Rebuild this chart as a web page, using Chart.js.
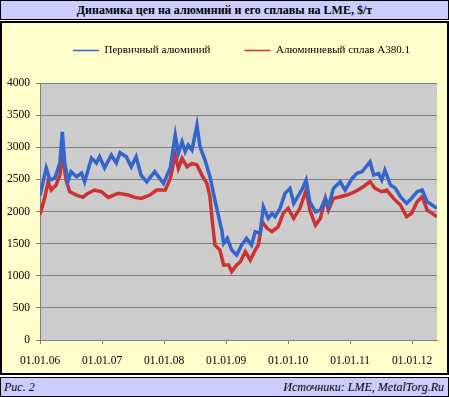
<!DOCTYPE html>
<html>
<head>
<meta charset="utf-8">
<script src="https://cdn.jsdelivr.net/npm/chart.js@4/dist/chart.umd.min.js"></script>
<style>
  body { margin: 0; background: #fff; }
  #wrap { position: relative; width: 449px; height: 397px; font-family: "Liberation Serif", "Times New Roman", serif; }
  .band { position: absolute; left: 0; width: 449px; height: 20px; box-sizing: border-box; border: 1px solid #000; background: #ccccff; }
  #title { top: 0; text-align: center; font-weight: bold; font-size: 12px; line-height: 18px; }
  #box { position: absolute; left: 0; top: 21px; width: 449px; height: 354px; box-sizing: border-box; border: 2px solid #000; background: #ffffcc; }
  #footer { top: 377px; font-style: italic; font-size: 12px; line-height: 18px; }
  #footer .l { position: absolute; left: 3px; }
  #footer .r { position: absolute; right: 4px; }
  #cv { position: absolute; left: 0; top: 0; }
</style>
</head>
<body>
<div id="wrap">
  <div id="title" class="band">Динамика цен на алюминий и его сплавы на LME, $/т</div>
  <div id="box"><canvas id="cv" width="445" height="350"></canvas></div>
  <div id="footer" class="band"><span class="l">Рис. 2</span><span class="r">Источники: LME, MetalTorg.Ru</span></div>
</div>
<script>
// даты в долях года, цены в $/т
const alumDates = [2006.00, 2006.02, 2006.10, 2006.16, 2006.24, 2006.32, 2006.36, 2006.40, 2006.45, 2006.50,
  2006.59, 2006.67, 2006.72, 2006.83, 2006.91, 2006.96, 2007.04, 2007.15, 2007.23, 2007.29,
  2007.39, 2007.47, 2007.55, 2007.63, 2007.72, 2007.85, 2007.99, 2008.10, 2008.18, 2008.23,
  2008.29, 2008.34, 2008.39, 2008.45, 2008.53, 2008.58, 2008.66, 2008.74, 2008.82, 2008.88,
  2008.93, 2008.96, 2009.02, 2009.09, 2009.17, 2009.25, 2009.33, 2009.41, 2009.47, 2009.55,
  2009.60, 2009.68, 2009.74, 2009.79, 2009.87, 2009.95, 2010.03, 2010.09, 2010.17, 2010.22,
  2010.29, 2010.35, 2010.44, 2010.52, 2010.60, 2010.65, 2010.73, 2010.84, 2010.92, 2011.03,
  2011.11, 2011.19, 2011.32, 2011.38, 2011.46, 2011.51, 2011.56, 2011.65, 2011.73, 2011.81,
  2011.91, 2011.99, 2012.08, 2012.16, 2012.24, 2012.32, 2012.40];
const alumPrices = [2250, 2334, 2676, 2490, 2520, 2754, 3241, 2754, 2463, 2619,
  2541, 2598, 2463, 2832, 2754, 2852, 2676, 2879, 2754, 2915,
  2852, 2697, 2852, 2560, 2463, 2619, 2437, 2676, 3190, 2905,
  3086, 2931, 3034, 2956, 3345, 3008, 2801, 2541, 2178, 1919,
  1712, 1505, 1582, 1400, 1323, 1478, 1582, 1478, 1686, 1660,
  2074, 1893, 1971, 1919, 2049, 2282, 2360, 2127, 2256, 2334,
  2490, 2152, 1996, 2023, 2204, 2074, 2360, 2463, 2334, 2515,
  2593, 2619, 2775, 2567, 2593, 2490, 2645, 2412, 2360, 2230,
  2127, 2204, 2308, 2334, 2152, 2101, 2049];

const alloyDates = [2006.00, 2006.08, 2006.13, 2006.18, 2006.26, 2006.32, 2006.36, 2006.42, 2006.48, 2006.59,
  2006.69, 2006.77, 2006.88, 2006.99, 2007.10, 2007.26, 2007.42, 2007.53, 2007.63, 2007.77,
  2007.88, 2008.02, 2008.10, 2008.18, 2008.23, 2008.29, 2008.37, 2008.45, 2008.53, 2008.61,
  2008.69, 2008.74, 2008.77, 2008.82, 2008.90, 2008.96, 2009.04, 2009.09, 2009.17, 2009.23,
  2009.31, 2009.39, 2009.47, 2009.52, 2009.58, 2009.66, 2009.74, 2009.84, 2009.92, 2010.00,
  2010.09, 2010.19, 2010.29, 2010.35, 2010.44, 2010.52, 2010.60, 2010.65, 2010.73, 2010.84,
  2010.95, 2011.08, 2011.21, 2011.32, 2011.40, 2011.51, 2011.59, 2011.70, 2011.81, 2011.91,
  2011.99, 2012.08, 2012.16, 2012.24, 2012.32, 2012.40];
const alloyPrices = [1950, 2230, 2463, 2334, 2412, 2567, 2905, 2490, 2308, 2256,
  2220, 2282, 2334, 2308, 2220, 2282, 2256, 2220, 2204, 2256,
  2334, 2334, 2515, 2879, 2671, 2827, 2697, 2749, 2723, 2567,
  2437, 2230, 1919, 1478, 1400, 1167, 1167, 1063, 1167, 1218,
  1374, 1245, 1400, 1478, 1841, 1738, 1686, 1764, 1971, 2049,
  1893, 2049, 2334, 2023, 1789, 1893, 2204, 2023, 2204, 2230,
  2256, 2308, 2386, 2463, 2360, 2308, 2334, 2204, 2101, 1919,
  1971, 2152, 2230, 2023, 1971, 1919];

const tickYears = [2006, 2007, 2008, 2009, 2010, 2011, 2012];
const seriesNames = ['Первичный алюминий', 'Алюминиевый сплав А380.1'];

const font = { family: '"Liberation Serif", "Times New Roman", serif', size: 11.5 };

// серый фон области построения
const plotBg = {
  id: 'plotBg',
  beforeDraw(chart) {
    const a = chart.chartArea;
    const ctx = chart.ctx;
    ctx.save();
    ctx.fillStyle = '#cccccc';
    ctx.fillRect(a.left, a.top, a.right - a.left, a.bottom - a.top);
    ctx.restore();
  }
};

// место под легендой и сдвиг легенды вправо, как в оригинале
const legendTweak = {
  id: 'legendTweak',
  afterInit(chart) {
    const lg = chart.legend;
    const fit = lg.fit.bind(lg);
    lg.fit = function () { fit(); this.height += 17; };
  },
  afterLayout(chart) {
    chart.legend.left += 22;
    chart.legend.right += 22;
  }
};

new Chart(document.getElementById('cv'), {
  type: 'line',
  data: {
    datasets: [
      {
        label: seriesNames[0],
        data: alumDates.map((d, i) => ({ x: d, y: alumPrices[i] })),
        borderColor: '#3366cc',
        backgroundColor: '#3366cc',
        borderWidth: 3.5,
        pointRadius: 0,
        tension: 0
      },
      {
        label: seriesNames[1],
        data: alloyDates.map((d, i) => ({ x: d, y: alloyPrices[i] })),
        borderColor: '#cc3333',
        backgroundColor: '#cc3333',
        borderWidth: 3.5,
        pointRadius: 0,
        tension: 0
      }
    ]
  },
  options: {
    responsive: false,
    animation: false,
    layout: { padding: { top: -12, right: 10, left: 0, bottom: 0 } },
    plugins: {
      legend: {
        labels: {
          color: '#000',
          font: { family: font.family, size: 11 },
          usePointStyle: true,
          pointStyle: 'line',
          pointStyleWidth: 26,
          padding: 34,
          generateLabels(chart) {
            const items = Chart.defaults.plugins.legend.labels.generateLabels(chart);
            items.forEach(it => { it.lineWidth = 1.5; it.pointStyle = 'line'; });
            return items;
          }
        }
      },
      tooltip: { enabled: false }
    },
    scales: {
      x: {
        type: 'linear',
        min: 2006,
        max: 2012.4,
        afterBuildTicks: scale => { scale.ticks = tickYears.map(v => ({ value: v })); },
        afterFit: scale => { scale.height = 33; },
        ticks: {
          color: '#000',
          font: font,
          padding: 10,
          maxRotation: 0,
          autoSkip: false,
          callback: v => '01.01.' + String(v).slice(2)
        },
        grid: { drawOnChartArea: false, drawTicks: true, tickLength: 4, color: '#808080' },
        border: { color: '#808080', width: 1 }
      },
      y: {
        min: 0,
        max: 4000,
        afterFit: scale => { scale.width = 38; },
        ticks: { stepSize: 500, color: '#000', font: font, padding: 6, callback: v => String(v) },
        grid: { color: '#808080', lineWidth: 1, tickLength: 4 },
        border: { color: '#808080', width: 1 }
      }
    }
  },
  plugins: [plotBg, legendTweak]
});
</script>
</body>
</html>
